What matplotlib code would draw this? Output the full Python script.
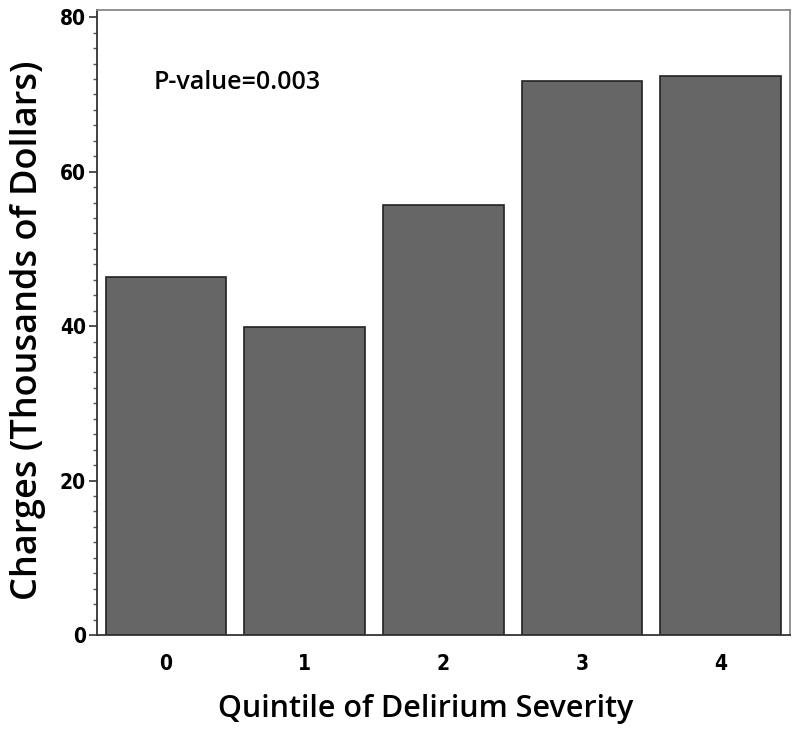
import matplotlib
matplotlib.use('Agg')
import matplotlib.pyplot as plt
from matplotlib.ticker import MultipleLocator

quintiles = ["0", "1", "2", "3", "4"]
charges = [46.4, 39.9, 55.7, 71.8, 72.4]
p_text = "P-value=0.003"

tick_font = ['Liberation Sans Narrow', 'DejaVu Sans']
label_font = ['Open Sans', 'DejaVu Sans']

fig = plt.figure(figsize=(8, 7.35), dpi=100)
ax = fig.add_axes([0.121, 0.136, 0.8665, 0.851])

xs = range(len(quintiles))
ax.bar(xs, charges, width=0.87, color='#666666', edgecolor='#222222', linewidth=1.2)

ax.set_xlim(-0.5, 4.5)
ax.set_ylim(0, 81)
ax.set_xticks(list(xs))
ax.set_xticklabels(quintiles)
ax.yaxis.set_major_locator(MultipleLocator(20))
ax.yaxis.set_minor_locator(MultipleLocator(2))

for lab in ax.get_xticklabels() + ax.get_yticklabels():
    lab.set_family(tick_font)
    lab.set_fontweight('bold')
    lab.set_fontstretch('condensed')
    lab.set_fontsize(15)

ax.tick_params(axis='y', which='major', length=6, width=1.2, color='#333333', pad=2)
ax.tick_params(axis='y', which='minor', length=3, width=1, color='#555555')
ax.tick_params(axis='x', which='major', length=0, pad=14)

for side in ['left', 'bottom']:
    ax.spines[side].set_color('#333333')
    ax.spines[side].set_linewidth(1.3)
for side in ['top', 'right']:
    ax.spines[side].set_color('#888888')
    ax.spines[side].set_linewidth(1.3)

ax.set_ylabel("Charges (Thousands of Dollars)", family=label_font, fontsize=26,
              fontweight='semibold')
ax.set_xlabel("Quintile of Delirium Severity", family=label_font, fontsize=22,
              fontweight='semibold')
ax.yaxis.set_label_coords(-0.074, 0.487)
ax.xaxis.set_label_coords(0.475, -0.094)

ax.text(-0.09, 71.6, p_text, family=label_font, fontsize=18, fontweight='semibold',
        ha='left', va='center')

plt.savefig("out.png", dpi=100)
